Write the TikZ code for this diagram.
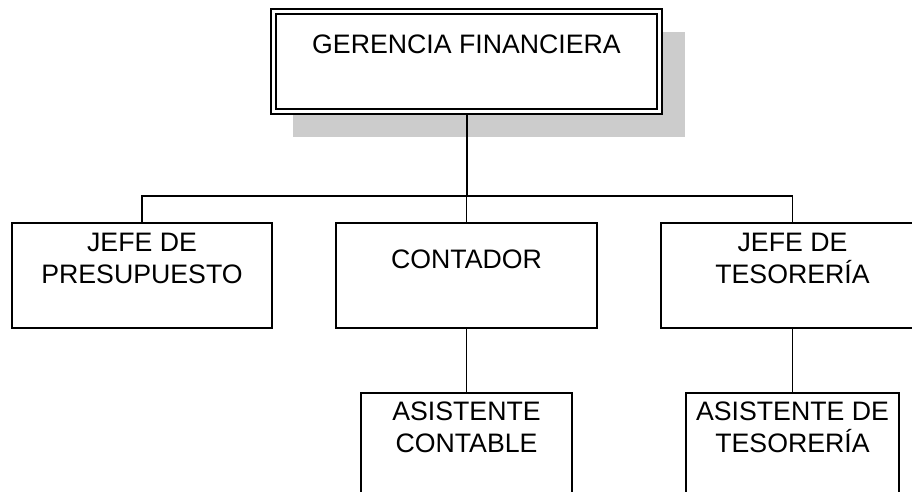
\documentclass[tikz,border=0pt]{standalone}
\usepackage{fontspec}
\setmainfont{Liberation Sans}
\pgfdeclarelayer{background}
\pgfsetlayers{background,main}
\begin{document}
\begin{tikzpicture}[x=1pt,y=-1pt,
  box/.style={draw=black, line width=1.3pt, fill=white, inner sep=0pt, outer sep=0pt},
  topbox/.style={draw=black, double=white, double distance=3.5pt, line width=1.4pt, fill=white, inner sep=0pt, outer sep=0pt},
  lbl/.style={font=\fontsize{26.7}{31.5}\selectfont, align=center, inner sep=0pt, anchor=base},
  conn/.style={line width=1.2pt, draw=black},
  mainconn/.style={line width=2pt, draw=black}]
\useasboundingbox (0,0) rectangle (912,491);
\clip (0,0) rectangle (912,491);
% boxes
\node[topbox, minimum width=386pt, minimum height=100pt] (gf) at (466.5,61.5) {};
\node[box, minimum width=260pt, minimum height=105pt] (jp) at (142,275.5) {};
\node[box, minimum width=261pt, minimum height=105pt] (ct) at (466.5,275.5) {};
\node[box, minimum width=263pt, minimum height=105pt] (jt) at (792.5,275.5) {};
\node[box, minimum width=211pt, minimum height=107pt] (ac) at (466.5,446.5) {};
\node[box, minimum width=213pt, minimum height=107pt] (at) at (792.5,446.5) {};
% texts (anchor = baseline of last line)
\node[lbl] (gft) at (466.5,53) {GERENCIA FINANCIERA};
\node[lbl] (jpt) at (142,283) {JEFE DE\\PRESUPUESTO};
\node[lbl] (ctt) at (466.5,268) {CONTADOR};
\node[lbl] (jtt) at (792.5,283) {JEFE DE\\TESORERÍA};
\node[lbl] (act) at (466.5,452) {ASISTENTE\\CONTABLE};
\node[lbl] (att) at (792.5,452) {ASISTENTE DE\\TESORERÍA};
\begin{pgfonlayer}{background}
% shadow
\fill[black!20] (293,32) rectangle (685,137);
% connectors
\coordinate (bus) at (466.5,196);
\draw[mainconn] (gf.south) -- (bus);
\draw[conn] (jp.north) |- (bus) -| (jt.north);
\draw[conn] (bus) -- (ct.north);
\draw[conn] (ct.south) -- (ac.north);
\draw[conn] (jt.south) -- (at.north);
\end{pgfonlayer}
\end{tikzpicture}
\end{document}
